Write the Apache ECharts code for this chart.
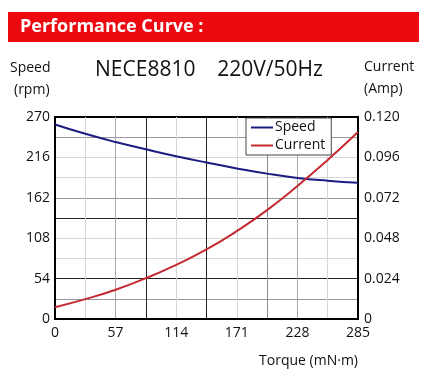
<!DOCTYPE html>
<html>
<head>
<meta charset="utf-8">
<script src="https://cdn.jsdelivr.net/npm/echarts@6/dist/echarts.min.js"></script>
<style>
  html, body { margin: 0; padding: 0; background: #fff; }
  #chart { width: 430px; height: 375px; }
</style>
</head>
<body>
<div id="chart"></div>
<script>
// torque points (mN·m)
const torque = [0, 28.5, 57, 85.5, 114, 142.5, 171, 199.5, 228, 256.5, 285];
// speed (rpm)
const speed = [260, 247.5, 236.5, 226.8, 217.6, 209.2, 201.3, 194.3, 188.6, 184.8, 182];
// current (Amp)
const current = [0.007, 0.0118, 0.0174, 0.0242, 0.0322, 0.0413, 0.0522, 0.0647, 0.079, 0.0945, 0.1111];

const xLineColors = ["#000", "#d6d6d6", "#a8a8a8", "#222", "#d6d6d6", "#222", "#d6d6d6", "#8c8c8c", "#a8a8a8", "#d6d6d6", "#000"];
const yLineColors = ["#000", "#9a9a9a", "#222", "#d6d6d6", "#d6d6d6", "#222", "#9a9a9a", "#d6d6d6", "#d6d6d6", "#9a9a9a", "#000"];

const font = "Open Sans";

const chart = echarts.init(document.getElementById("chart"));

const option = {
  animation: false,
  textStyle: { fontFamily: font },
  graphic: [
    { type: "rect", shape: { x: 8, y: 12, width: 411, height: 30 }, style: { fill: "#ec0a10" } },
    { type: "text", x: 20, y: 27, style: { text: "Performance Curve :", fill: "#fff", font: "bold 18px " + font, textVerticalAlign: "middle" } },
    { type: "text", x: 95, y: 70, style: { text: "NECE8810    220V/50Hz", fill: "#111", font: "21px " + font, textVerticalAlign: "middle" } },
    { type: "text", x: 10, y: 68, style: { text: "Speed", fill: "#111", font: "14px " + font, textVerticalAlign: "middle" } },
    { type: "text", x: 14, y: 90, style: { text: "(rpm)", fill: "#111", font: "14px " + font, textVerticalAlign: "middle" } },
    { type: "text", x: 364, y: 67, style: { text: "Current", fill: "#111", font: "14px " + font, textVerticalAlign: "middle" } },
    { type: "text", x: 364, y: 89, style: { text: "(Amp)", fill: "#111", font: "14px " + font, textVerticalAlign: "middle" } },
  ],
  grid: {
    left: 55, right: 72, top: 117, bottom: 56,
    show: true, borderColor: "#000", borderWidth: 2,
  },
  legend: {
    orient: "vertical",
    left: 246, top: 118,
    data: ["Speed", "Current"],
    icon: "rect",
    itemWidth: 22, itemHeight: 2, itemGap: 1,
    padding: [1, 6, 1, 5],
    backgroundColor: "#fff",
    borderColor: "#444", borderWidth: 1,
    textStyle: { fontSize: 14, color: "#111", lineHeight: 17, padding: [0, 0, 0, -3] },
  },
  xAxis: {
    type: "value",
    min: 0, max: 285, interval: 28.5,
    name: "Torque (mN·m)",
    nameLocation: "end",
    nameGap: 0,
    nameTextStyle: { fontSize: 14, color: "#111", align: "right", verticalAlign: "top", padding: [35, 0, 0, 0] },
    axisLine: { lineStyle: { color: "#000", width: 2 } },
    axisTick: { show: false },
    axisLabel: {
      fontSize: 14, color: "#111", margin: 7,
      formatter: (v, i) => (i % 2 === 0 ? String(Math.round(v)) : ""),
    },
    splitLine: { show: true, lineStyle: { color: xLineColors, width: 1 } },
  },
  yAxis: [
    {
      type: "value",
      min: 0, max: 270, interval: 27,
      axisLine: { show: true, lineStyle: { color: "#000", width: 2 } },
      axisTick: { show: false },
      axisLabel: {
        fontSize: 14, color: "#111", margin: 5,
        formatter: (v, i) => (i % 2 === 0 ? String(Math.round(v)) : ""),
      },
      splitLine: { show: true, lineStyle: { color: yLineColors, width: 1 } },
    },
    {
      type: "value",
      min: 0, max: 0.12, interval: 0.024,
      position: "right",
      axisLine: { show: true, lineStyle: { color: "#000", width: 2 } },
      axisTick: { show: false },
      axisLabel: {
        fontSize: 14, color: "#111", margin: 6,
        formatter: (v) => (v === 0 ? "0" : v.toFixed(3)),
      },
      splitLine: { show: false },
    },
  ],
  series: [
    {
      name: "Speed",
      type: "line",
      yAxisIndex: 0,
      smooth: true,
      symbol: "none",
      data: torque.map((t, i) => [t, speed[i]]),
      lineStyle: { color: "#1b1b80", width: 2 },
      itemStyle: { color: "#1b1b80" },
    },
    {
      name: "Current",
      type: "line",
      yAxisIndex: 1,
      smooth: true,
      symbol: "none",
      data: torque.map((t, i) => [t, current[i]]),
      lineStyle: { color: "#c42a30", width: 2 },
      itemStyle: { color: "#c42a30" },
    },
  ],
};

chart.setOption(option);
</script>
</body>
</html>
